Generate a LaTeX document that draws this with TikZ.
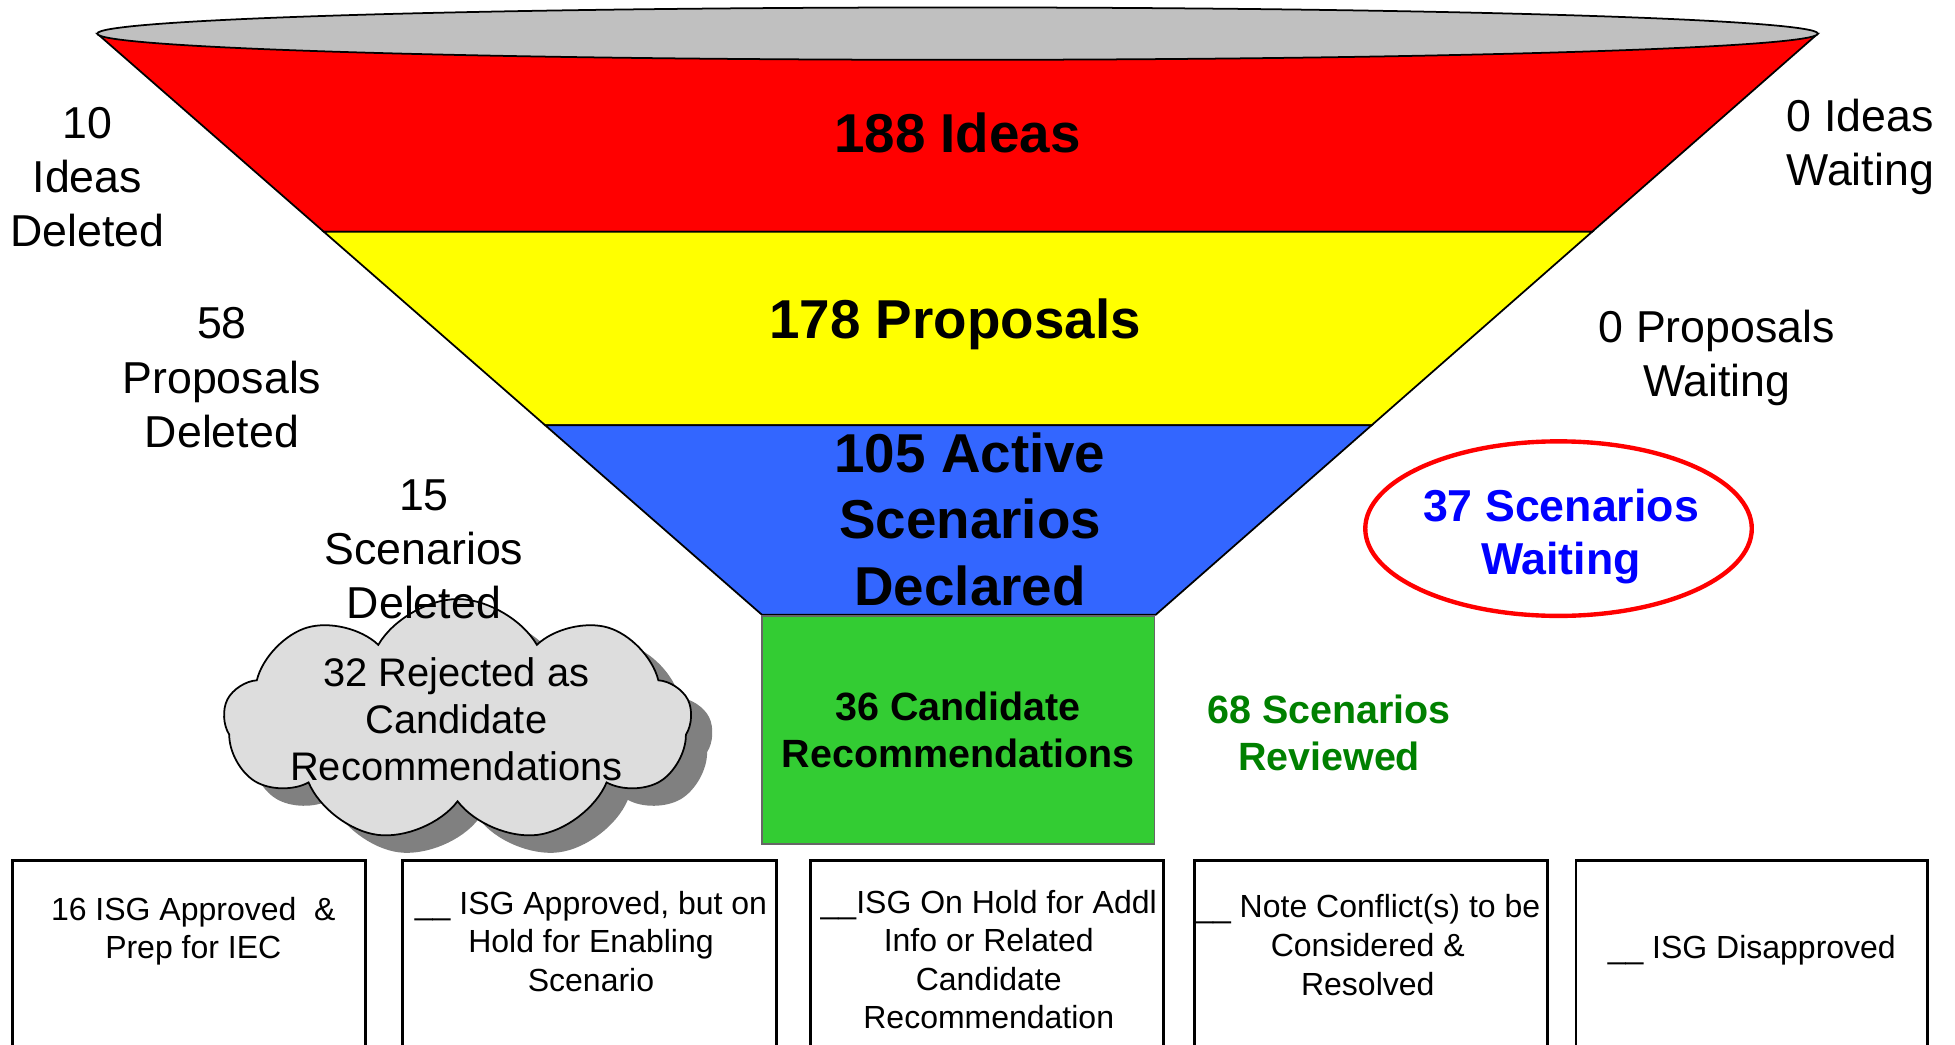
\documentclass[tikz,border=0pt]{standalone}
\usepackage{fontspec}
\setmainfont{Liberation Sans}
\usetikzlibrary{shapes.symbols,shadows,calc}

\definecolor{funnelred}{RGB}{255,0,0}
\definecolor{funnelyellow}{RGB}{255,255,0}
\definecolor{funnelblue}{RGB}{51,102,255}
\definecolor{funnelgreen}{RGB}{51,204,51}
\definecolor{rimgray}{RGB}{192,192,192}
\definecolor{cloudgray}{RGB}{221,221,221}
\definecolor{reviewgreen}{RGB}{0,128,0}

\tikzset{
  bandtext/.style={align=center, font=\fontsize{12.5}{15.2}\selectfont\bfseries},
  sidetext/.style={align=center, font=\fontsize{10.2}{12.4}\selectfont},
  midtext/.style={align=center, font=\fontsize{9}{10.8}\selectfont\bfseries},
  stagetext/.style={align=center, font=\fontsize{7.3}{8.8}\selectfont},
}

\begin{document}
\begin{tikzpicture}
\def\ytop{8.11}
\def\ybot{3.45}
\useasboundingbox (0,0) rectangle (15.68,8.38);

%%%%%%%%%%%%%-------------funnel
\coordinate (tl) at (0.78,\ytop);
\coordinate (tr) at (14.58,\ytop);
\coordinate (bl) at (6.11,\ybot);
\coordinate (br) at (9.27,\ybot);
\coordinate (ml) at ($(tl)!0.341!(bl)$);
\coordinate (mr) at ($(tr)!0.341!(br)$);
\coordinate (nl) at ($(tl)!0.674!(bl)$);
\coordinate (nr) at ($(tr)!0.674!(br)$);

\draw[fill=funnelred] (tl)--(tr)--(mr)--(ml)--cycle;
\draw[fill=funnelyellow] (ml)--(mr)--(nr)--(nl)--cycle;
\draw[fill=funnelblue] (nl)--(nr)--(br)--(bl)--cycle;
\draw[fill=rimgray] (7.68,\ytop) ellipse (6.90 and 0.21);

\node[bandtext] (ideas) at (7.68,7.31) {188 Ideas};
\node[bandtext] (proposals) at (7.66,5.78) {178 Proposals};
\node[bandtext] (active) at (7.78,4.215) {105 Active\\Scenarios\\Declared};

\node[draw=black!60, fill=funnelgreen, minimum width=3.15cm, minimum height=1.83cm, midtext] (cand) at (7.685,2.525) {36 Candidate\\Recommendations};
\node[midtext, text=reviewgreen] (reviewed) at (10.66,2.50) {68 Scenarios\\Reviewed};

\node[align=center, text=blue, font=\fontsize{10.2}{12.2}\selectfont\bfseries] (waiting) at (12.52,4.075) {37 Scenarios\\Waiting};
\draw[funnelred, line width=1pt] (12.50,4.14) ellipse (1.55 and 0.70);

%%%%%%%%%%%%%-------------cloud
\node[cloud, cloud puffs=9, cloud puff arc=120, cloud ignores aspect, draw, fill=cloudgray,
      minimum width=3.75cm, minimum height=1.95cm,
      drop shadow={shadow xshift=0.17cm, shadow yshift=-0.14cm, fill=black!50, opacity=1}] (cloud) at (3.67,2.60) {};
\node[sidetext, font=\fontsize{9.1}{10.8}\selectfont] (rejected) at (3.66,2.61) {32 Rejected as\\Candidate\\Recommendations};

%%%%%%%%%%%%%-------------side labels
\node[sidetext] (idel) at (0.70,6.96) {10\\Ideas\\Deleted};
\node[sidetext] (pdel) at (1.78,5.35) {58\\Proposals\\Deleted};
\node[sidetext] (sdel) at (3.40,3.975) {15\\Scenarios\\Deleted};
\node[sidetext] (iwait) at (14.92,7.20) {0 Ideas\\Waiting};
\node[sidetext] (pwait) at (13.77,5.51) {0 Proposals\\Waiting};

%%%%%%%%%%%%%-------------ISG stages
\foreach \l/\r in {0.10/2.93, 3.23/6.23, 6.50/9.33, 9.58/12.41, 12.64/15.46}{
\draw[line width=0.6pt] (\l,-0.2) rectangle (\r,1.48);}

\node[stagetext] (isg1) at (1.55,0.91) {16 ISG Approved\ \ \&\\Prep for IEC};
\node[stagetext] (isg2) at (4.74,0.83) {\_\_ ISG Approved, but on\\Hold for Enabling\\Scenario};
\node[stagetext] (isg3) at (7.93,0.685) {\_\_ISG On Hold for Addl\\Info or Related\\Candidate\\Recommendation};
\node[stagetext] (isg4) at (10.97,0.80) {\_\_ Note Conflict(s) to be\\Considered \&\\Resolved};
\node[stagetext] (isg5) at (14.05,0.76) {\_\_ ISG Disapproved};

\end{tikzpicture}
\end{document}
